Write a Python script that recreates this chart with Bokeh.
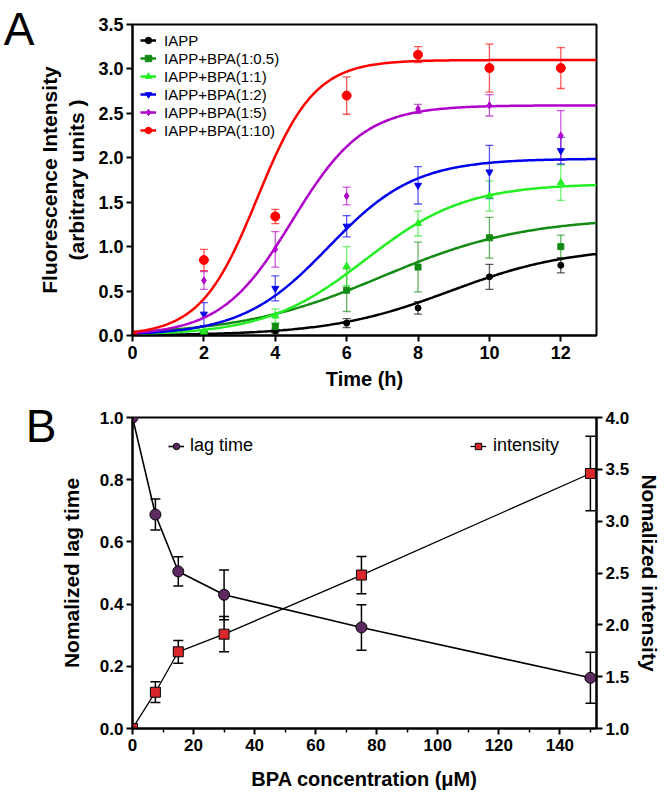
import numpy as np
from bokeh.plotting import figure
from bokeh.models import (ColumnDataSource, Whisker, TeeHead, Legend, LegendItem,
                          LinearAxis, Range1d, FixedTicker, NumeralTickFormatter,
                          CustomJSTickFormatter)
from bokeh.layouts import column
from bokeh.embed import file_html
from bokeh.resources import INLINE

# ---------------- Panel A data ----------------
time_h = [0, 2, 4, 6, 8, 10, 12]
series_names = ["IAPP", "IAPP+BPA(1:0.5)", "IAPP+BPA(1:1)", "IAPP+BPA(1:2)",
                "IAPP+BPA(1:5)", "IAPP+BPA(1:10)"]
iapp_mean = [0, 0.02, 0.05, 0.14, 0.31, 0.66, 0.79]
iapp_sd = [0, 0.01, 0.02, 0.05, 0.07, 0.14, 0.085]
bpa05_mean = [0, 0.03, 0.10, 0.51, 0.77, 1.10, 1.00]
bpa05_sd = [0, 0.01, 0.04, 0.24, 0.28, 0.23, 0.13]
bpa1_mean = [0, 0.04, 0.22, 0.78, 1.26, 1.57, 1.72]
bpa1_sd = [0, 0.02, 0.08, 0.22, 0.14, 0.17, 0.20]
bpa2_mean = [0, 0.24, 0.53, 1.23, 1.69, 1.84, 2.08]
bpa2_sd = [0, 0.13, 0.14, 0.12, 0.21, 0.30, 0.15]
bpa5_mean = [0, 0.62, 0.97, 1.57, 2.55, 2.59, 2.25]
bpa5_sd = [0, 0.10, 0.20, 0.10, 0.05, 0.12, 0.28]
bpa10_mean = [0, 0.85, 1.34, 2.70, 3.16, 3.01, 3.01]
bpa10_sd = [0, 0.12, 0.08, 0.21, 0.09, 0.27, 0.23]

# Boltzmann sigmoid fit parameters
fit_top = [1.00, 1.33, 1.71, 1.99, 2.59, 3.10]
fit_t50 = [8.9, 7.0, 6.53, 5.49, 4.48, 3.5]
fit_slope = [1.7, 2.0, 1.4, 1.21, 1.0, 0.8]

x_ticks_a = [0, 2, 4, 6, 8, 10, 12]
y_ticks_a = [0.0, 0.5, 1.0, 1.5, 2.0, 2.5, 3.0, 3.5]

# ---------------- Panel B data ----------------
bpa_conc = [0, 7.5, 15, 30, 75, 150]
lag_time = [1.0, 0.688, 0.505, 0.43, 0.325, 0.163]
lag_sd = [0, 0.05, 0.047, 0.08, 0.073, 0.082]
intensity = [1.0, 1.35, 1.74, 1.91, 2.48, 3.46]
intensity_sd = [0, 0.10, 0.11, 0.17, 0.18, 0.36]

x_ticks_b = [0, 20, 40, 60, 80, 100, 120, 140]
x_minor_b = [10, 30, 50, 70, 90, 110, 130, 150]
y_ticks_b = [0.0, 0.2, 0.4, 0.6, 0.8, 1.0]
y2_ticks_b = [1.0, 1.5, 2.0, 2.5, 3.0, 3.5, 4.0]

means = [iapp_mean, bpa05_mean, bpa1_mean, bpa2_mean, bpa5_mean, bpa10_mean]
sds = [iapp_sd, bpa05_sd, bpa1_sd, bpa2_sd, bpa5_sd, bpa10_sd]
colors = ["#000000", "#138a13", "#22ee22", "#0000ee", "#b000cc", "#ff0000"]
markers = ["circle", "square", "triangle", "inverted_triangle", "diamond", "circle"]
msizes = [6, 6, 7, 7, 7, 9]

FONT = "Liberation Sans"

W = 664
BL, BR = 132, 66           # left/right borders
A_H, A_TOP, A_BOT = 395, 24, 60
B_H, B_TOP, B_BOT = 401, 22, 68


def style_axis(ax, tick_size="17px", label_size="20px"):
    ax.axis_line_width = 2
    ax.axis_line_color = "black"
    ax.major_tick_line_width = 2
    ax.major_tick_line_color = "black"
    ax.major_tick_out = 6
    ax.major_tick_in = 0
    ax.minor_tick_line_width = 1.5
    ax.minor_tick_line_color = "black"
    ax.minor_tick_out = 4
    ax.minor_tick_in = 0
    ax.major_label_text_font = FONT
    ax.major_label_text_font_style = "bold"
    ax.major_label_text_font_size = tick_size
    ax.major_label_text_color = "black"
    ax.axis_label_text_font = FONT
    ax.axis_label_text_font_style = "bold"
    ax.axis_label_text_font_size = label_size
    ax.axis_label_text_color = "black"


def panel_letter(p, letter, at):
    # an unlined outer axis whose single tick label is the panel letter
    ax = LinearAxis(ticker=FixedTicker(ticks=[at], minor_ticks=[]),
                    formatter=CustomJSTickFormatter(code="return '%s'" % letter),
                    axis_line_color=None, major_tick_line_color=None,
                    major_tick_out=0, major_tick_in=0, minor_tick_out=0,
                    major_label_standoff=0, major_label_text_font=FONT,
                    major_label_text_font_size="46px", major_label_text_color="black")
    p.add_layout(ax, "left")


# ================= Panel A =================
pA = figure(width=W, height=A_H, x_range=Range1d(0, 13), y_range=Range1d(0, 3.5),
            output_backend="svg", toolbar_location=None,
            min_border_left=BL, min_border_right=BR, min_border_top=A_TOP, min_border_bottom=A_BOT)
pA.grid.visible = False
pA.outline_line_color = "black"
pA.outline_line_width = 2
pA.outline_line_alpha = 1

pA.xaxis.ticker = FixedTicker(ticks=x_ticks_a, minor_ticks=[])
pA.yaxis.ticker = FixedTicker(ticks=y_ticks_a, minor_ticks=[])
pA.yaxis.formatter = NumeralTickFormatter(format="0.0")
pA.xaxis.axis_label = "Time (h)"
pA.yaxis.axis_label = "Fluorescence Intensity\n(arbitrary units )"
style_axis(pA.xaxis[0], tick_size="18px")
style_axis(pA.yaxis[0], tick_size="18px", label_size="21px")
pA.xaxis.major_label_standoff = 4
pA.yaxis.major_label_standoff = 3
pA.xaxis.axis_label_standoff = 6
pA.yaxis.axis_label_standoff = 7

t_grid = np.linspace(0, 13, 261)
items_a = []
for i in range(6):
    c = colors[i]
    curve = fit_top[i] / (1 + np.exp((fit_t50[i] - t_grid) / fit_slope[i]))
    lr = pA.line(t_grid, curve, line_color=c, line_width=2.5)
    m = np.array(means[i])
    s = np.array(sds[i])
    keep = s > 0
    src = ColumnDataSource(dict(x=np.array(time_h)[keep], upper=(m + s)[keep], lower=(m - s)[keep]))
    w = Whisker(source=src, base="x", upper="upper", lower="lower",
                line_color=c, line_alpha=0.65, line_width=1.3,
                upper_head=TeeHead(size=8, line_color=c, line_alpha=0.65, line_width=1.3),
                lower_head=TeeHead(size=8, line_color=c, line_alpha=0.65, line_width=1.3))
    pA.add_layout(w)
    sr = pA.scatter(time_h, means[i], marker=markers[i], size=msizes[i],
                    fill_color=c, line_color=c)
    items_a.append(LegendItem(label=series_names[i], renderers=[lr, sr]))

legA = Legend(items=items_a, location=(8, 196), margin=0, padding=2, spacing=0,
              glyph_width=16, glyph_height=18, label_height=18, label_standoff=8,
              label_text_font=FONT, label_text_font_size="15px", label_text_color="black",
              border_line_color=None, background_fill_alpha=0)
pA.add_layout(legA, "center")

panel_letter(pA, "A", 3.5)

# ================= Panel B =================
pB = figure(width=W, height=B_H, x_range=Range1d(0, 152), y_range=Range1d(0, 1),
            output_backend="svg", toolbar_location=None,
            min_border_left=BL, min_border_right=BR, min_border_top=B_TOP, min_border_bottom=B_BOT)
pB.extra_y_ranges = {"int": Range1d(1, 4)}
pB.grid.visible = False
pB.outline_line_color = "black"
pB.outline_line_width = 2
pB.outline_line_alpha = 1

pB.xaxis.ticker = FixedTicker(ticks=x_ticks_b, minor_ticks=x_minor_b)
pB.yaxis.ticker = FixedTicker(ticks=y_ticks_b, minor_ticks=[])
pB.yaxis.formatter = NumeralTickFormatter(format="0.0")
pB.xaxis.axis_label = "BPA concentration (\u03bcM)"
pB.yaxis.axis_label = "Nomalized lag time"
style_axis(pB.xaxis[0], label_size="20px")
style_axis(pB.yaxis[0], label_size="21px")
pB.xaxis.major_label_standoff = 4
pB.yaxis.major_label_standoff = 3
pB.xaxis.axis_label_standoff = 14
pB.yaxis.axis_label_standoff = 14

ax2 = LinearAxis(y_range_name="int", ticker=FixedTicker(ticks=y2_ticks_b, minor_ticks=[]),
                 formatter=NumeralTickFormatter(format="0.0"),
                 axis_label="Nomalized intensity")
style_axis(ax2, label_size="21px")
ax2.major_label_standoff = 3
ax2.axis_label_standoff = 6
pB.add_layout(ax2, "right")

lag_np = np.array(lag_time)
lag_sd_np = np.array(lag_sd)
keep = lag_sd_np > 0
src_lag = ColumnDataSource(dict(x=np.array(bpa_conc)[keep], upper=(lag_np + lag_sd_np)[keep],
                                lower=(lag_np - lag_sd_np)[keep]))
int_np = np.array(intensity)
int_sd_np = np.array(intensity_sd)
keep2 = int_sd_np > 0
src_int = ColumnDataSource(dict(x=np.array(bpa_conc)[keep2], upper=(int_np + int_sd_np)[keep2],
                                lower=(int_np - int_sd_np)[keep2]))

for src, rng in ((src_lag, "default"), (src_int, "int")):
    w = Whisker(source=src, base="x", upper="upper", lower="lower", y_range_name=rng,
                line_color="black", line_width=1.5,
                upper_head=TeeHead(size=10, line_color="black", line_width=1.5),
                lower_head=TeeHead(size=10, line_color="black", line_width=1.5))
    pB.add_layout(w)

l1 = pB.line(bpa_conc, lag_time, line_color="black", line_width=1.6)
s1 = pB.scatter(bpa_conc, lag_time, marker="circle", size=11, fill_color="#5c2a60",
                line_color="black", line_width=1)
l2 = pB.line(bpa_conc, intensity, line_color="black", line_width=1.3, y_range_name="int")
s2 = pB.scatter(bpa_conc, intensity, marker="square", size=10, fill_color="#d8262b",
                line_color="black", line_width=1, y_range_name="int")

leg1 = Legend(items=[LegendItem(label="lag time", renderers=[l1, s1])], location=(36, 272),
              margin=0, padding=2, glyph_width=16, glyph_height=20, label_height=20,
              label_standoff=6, label_text_font=FONT, label_text_font_size="18px",
              label_text_color="black",
              border_line_color=None, background_fill_alpha=0)
leg2 = Legend(items=[LegendItem(label="intensity", renderers=[l2, s2])], location=(338, 272),
              margin=0, padding=2, glyph_width=16, glyph_height=20, label_height=20,
              label_standoff=7, label_text_font=FONT, label_text_font_size="18px",
              label_text_color="black",
              border_line_color=None, background_fill_alpha=0)
pB.add_layout(leg1, "center")
pB.add_layout(leg2, "center")

panel_letter(pB, "B", 1.0)

layout = column(pA, pB, spacing=0)
open("out.html", "w").write(file_html(layout, INLINE))
